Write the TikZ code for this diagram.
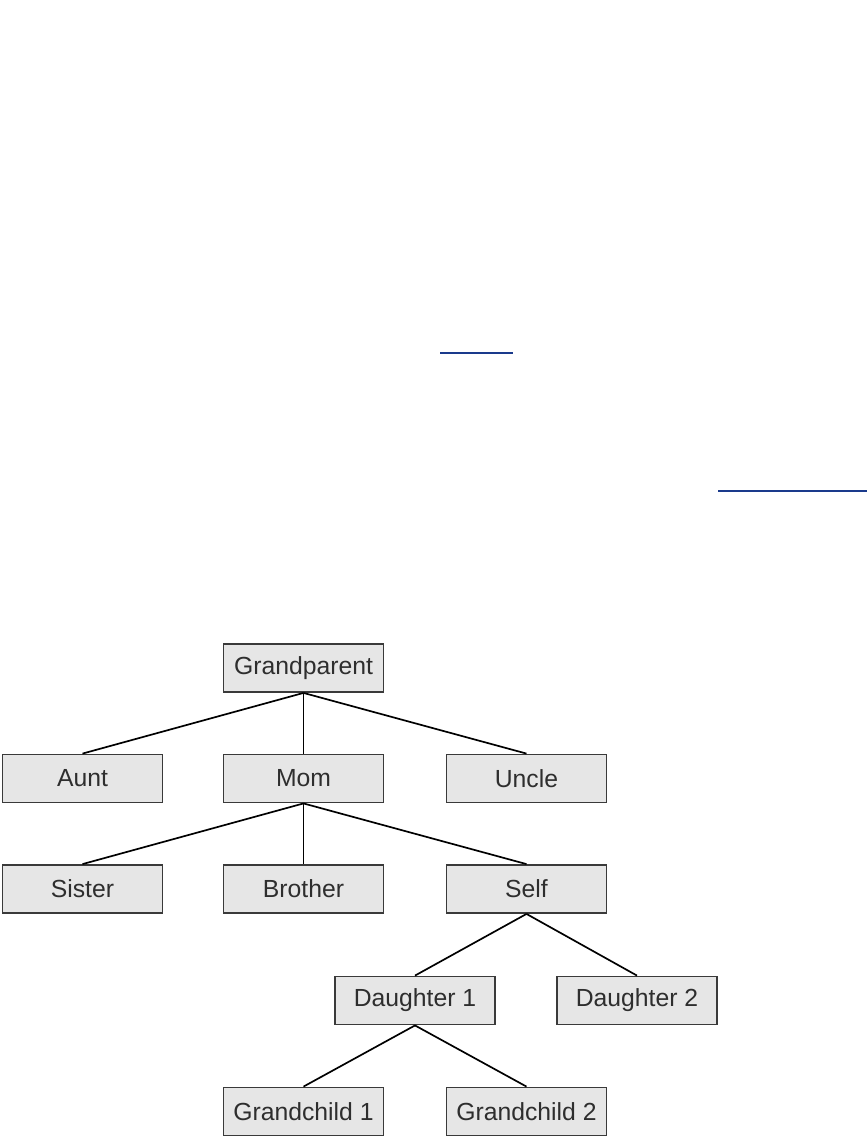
\documentclass[tikz,border=0pt]{standalone}
\usepackage{fontspec}
\setmainfont{Liberation Sans}
\usetikzlibrary{positioning}
\definecolor{boxfill}{HTML}{E6E6E6}
\definecolor{boxline}{HTML}{3A3A3A}
\definecolor{rulecol}{HTML}{1A3A8C}

\begin{document}
\begin{tikzpicture}[every node/.style={font=\fontsize{17.6}{20}\selectfont},
  person/.style={draw=boxline,fill=boxfill,line width=1.3pt,minimum width=4.0cm,minimum height=1.2cm,inner sep=0pt,text=black!82}]
\useasboundingbox (0,0) rectangle (21.675,-28.45);
\draw[rulecol,line width=1pt] (11.0000,-8.8250)--(12.8250,-8.8250);
\draw[rulecol,line width=1pt] (17.9500,-12.2750)--(21.6750,-12.2750);
\node[person] (gp) at (7.5875,-16.7000) {Grandparent};
\node[person] (aunt) at (2.0625,-19.4625) {Aunt};
\node[person] (mom) at (7.5875,-19.4625) {Mom};
\node[person] (uncle) at (13.1625,-19.4625) {Uncle};
\node[person] (sis) at (2.0625,-22.2250) {Sister};
\node[person] (bro) at (7.5875,-22.2250) {Brother};
\node[person] (self) at (13.1625,-22.2250) {Self};
\node[person] (dau1) at (10.3750,-25.0125) {Daughter 1};
\node[person] (dau2) at (15.9250,-25.0125) {Daughter 2};
\node[person] (gc1) at (7.5875,-27.7875) {Grandchild 1};
\node[person] (gc2) at (13.1625,-27.7875) {Grandchild 2};
\draw[line width=1.2pt](gp.south)--(aunt.north);
\draw[line width=1.2pt](gp.south)--(mom.north);
\draw[line width=1.2pt](gp.south)--(uncle.north);
\draw[line width=1.2pt](mom.south)--(sis.north);
\draw[line width=1.2pt](mom.south)--(bro.north);
\draw[line width=1.2pt](mom.south)--(self.north);
\draw[line width=1.2pt](self.south)--(dau1.north);
\draw[line width=1.2pt](self.south)--(dau2.north);
\draw[line width=1.2pt](dau1.south)--(gc1.north);
\draw[line width=1.2pt](dau1.south)--(gc2.north);
\end{tikzpicture}
\end{document}
